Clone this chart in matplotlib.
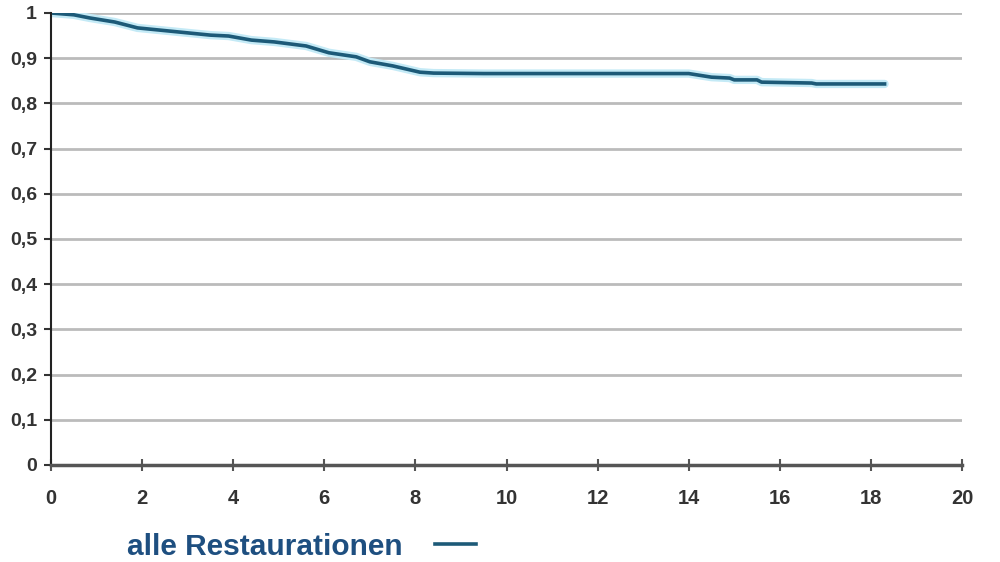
import numpy as np
import matplotlib.pyplot as plt
from matplotlib.ticker import FuncFormatter

# Kaplan-Meier style survival
years = [0, 0.5, 0.85, 1.4, 1.9, 2.8, 3.5, 3.9, 4.4, 4.9, 5.6, 5.9, 6.1, 6.7,
         7.0, 7.5, 8.1, 8.4, 9.5, 12.0, 14.0, 14.5, 14.9, 15.0, 15.5, 15.6,
         16.7, 16.8, 18.3]
survival = [1.0, 0.996, 0.989, 0.98, 0.967, 0.958, 0.951, 0.949, 0.94, 0.936,
            0.927, 0.918, 0.912, 0.903, 0.892, 0.883, 0.869, 0.867, 0.866,
            0.866, 0.866, 0.858, 0.856, 0.852, 0.852, 0.847, 0.845, 0.843,
            0.843]
series_label = 'alle Restaurationen'
x_ticks = list(range(0, 21, 2))
y_ticks = [round(v * 0.1, 1) for v in range(11)]

plt.rcParams['font.family'] = ['Liberation Sans', 'DejaVu Sans']

fig = plt.figure(figsize=(10, 5.62), dpi=100)
ax = fig.add_axes([0.051, 0.1726, 0.911, 0.8043])

line_col = '#1d5a78'
ax.plot(years, survival, color='#c4eaf6', lw=6, solid_capstyle='round')
ax.plot(years, survival, color=line_col, lw=2.6, label=series_label)

ax.set_xlim(0, 20)
ax.set_ylim(0, 1)
ax.set_xticks(x_ticks)
ax.set_yticks(y_ticks)
ax.yaxis.set_major_formatter(FuncFormatter(
    lambda v, p: '1' if v == 1 else ('0' if v == 0 else f'{v:.1f}'.replace('.', ','))))

ax.grid(axis='y', color='#bbbbbb', lw=2)
ax.set_axisbelow(True)
for s in ['top', 'right']:
    ax.spines[s].set_visible(False)
ax.spines['left'].set_color('#222222')
ax.spines['left'].set_linewidth(1.5)
ax.spines['bottom'].set_color('#555555')
ax.spines['bottom'].set_linewidth(2.5)

ax.tick_params(axis='y', direction='out', length=5, width=1.5, color='#333333',
               labelsize=14, labelcolor='#333333', pad=5)
ax.tick_params(axis='x', direction='inout', length=8, width=1.5, color='#555555',
               labelsize=14.5, labelcolor='#333333', pad=13)
for t in ax.get_xticklabels() + ax.get_yticklabels():
    t.set_fontweight('bold')

leg = fig.legend(loc='center left', bbox_to_anchor=(0.100, 0.027), frameon=False,
                 markerfirst=False, handlelength=1.35, handletextpad=1.1,
                 prop={'size': 21.5, 'weight': 'bold'})
for t in leg.get_texts():
    t.set_color('#1e4f80')

fig.savefig('out.png', dpi=100)
